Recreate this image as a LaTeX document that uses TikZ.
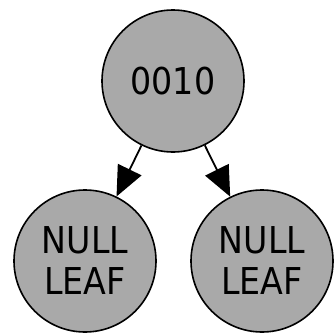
\documentclass[tikz,border=0pt]{standalone}
\usepackage{fontspec}
\setmainfont[FakeStretch=0.9]{DejaVu Sans}
\usetikzlibrary{arrows.meta}
\definecolor{nodegray}{RGB}{169,169,169}
\tikzset{
  treenode/.style={circle, draw=black, line width=1.6pt, fill=nodegray,
    minimum size=142pt, inner sep=0pt, align=center,
    font=\fontsize{37}{41}\selectfont},
  treeedge/.style={line width=1.8pt, -{Triangle[length=30pt,width=26pt]}}
}
\begin{document}
\begin{tikzpicture}[x=1pt,y=1pt]
      \useasboundingbox (0,0) rectangle (334,333);
      \draw
        (173,252) node[treenode] (root){0010}
        (85,72) node[treenode] (left){NULL\\LEAF}
        (262,72) node[treenode] (right){NULL\\LEAF};
      \begin{scope}[treeedge]
        \draw (root) to (left);
        \draw (root) to (right);
      \end{scope}
    \end{tikzpicture}
\end{document}
